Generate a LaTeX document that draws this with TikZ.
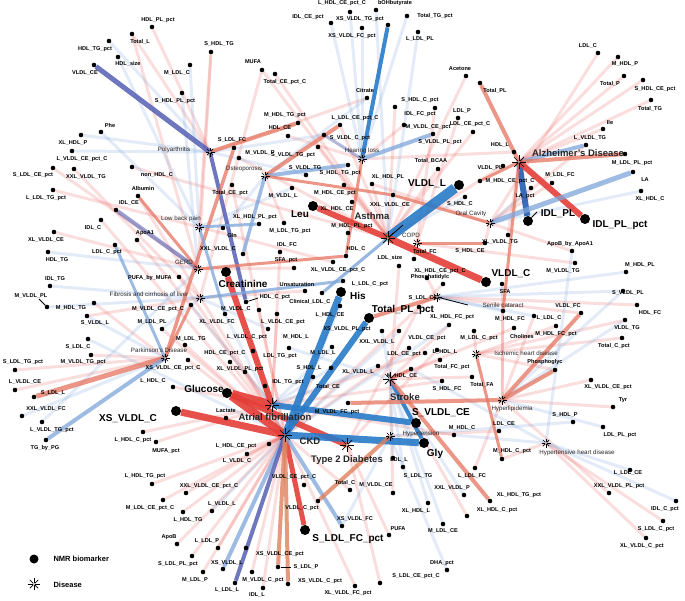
\documentclass[tikz,border=0pt]{standalone}
\usepackage{fontspec}
\setmainfont{Liberation Sans}
\usetikzlibrary{backgrounds}
\definecolor{myred}{RGB}{228,62,56}
\definecolor{mysal}{RGB}{230,115,95}
\definecolor{myblue}{RGB}{40,122,200}
\definecolor{mylb}{RGB}{125,165,218}
\definecolor{mypur}{RGB}{85,95,178}
\definecolor{mydb}{RGB}{38,92,175}
\definecolor{myor}{RGB}{222,128,92}
\tikzset{
 bio/.style={circle,fill=black,inner sep=0pt,minimum size=4.6pt},
 bigbio/.style={circle,fill=black,inner sep=0pt,minimum size=10pt},
 lab/.style={font=\bfseries\fontsize{5.6}{6}\selectfont,inner sep=0.5pt},
 blab/.style={font=\bfseries\fontsize{10}{11}\selectfont,inner sep=0.5pt},
 dlab/.style={font=\fontsize{6.2}{7}\selectfont,text=black!85,inner sep=0.5pt},
 bdlab/.style={font=\bfseries\fontsize{9.5}{10}\selectfont,text=black!85,inner sep=0.5pt},
 fr/.style={draw=myred,opacity=0.17,line width=3pt},
 fb/.style={draw=mylb,opacity=0.22,line width=3pt},
 RR/.style={draw=myred,opacity=0.9,line width=#1},
 SS/.style={draw=mysal,opacity=0.75,line width=#1},
 BB/.style={draw=myblue,opacity=0.9,line width=#1},
 LB/.style={draw=mylb,opacity=0.75,line width=#1},
 PP/.style={draw=mypur,opacity=0.85,line width=#1},
 DB/.style={draw=mydb,opacity=0.9,line width=#1},
 OR/.style={draw=myor,opacity=0.8,line width=#1},
 tick/.style={draw=black,line width=0.8pt},
}
\newcommand\bm[4][lab]{\node[bio] (#2) at (#3) {}; \node[#1] (#2-l) at (#4) {#2};}
\newcommand\bg[3]{\node[bigbio] (#1) at (#2) {}; \node[blab] (#1-l) at (#3) {#1};}
\newcommand\dz[6]{\node[inner sep=0pt,minimum size=1pt] (#1) at (#2) {};
 \foreach \a in {0,45,...,315}{\draw[line width=0.7pt] (#1) -- ++(\a:#3);}
 \node[#4] (#1-l) at (#5) {#6};}
\begin{document}
\begin{tikzpicture}[x=1pt,y=-1pt]
\catcode`\_=12
\useasboundingbox (0,0) rectangle (685,600);
% ---------- diseases
\dz{poly}{210,152}{4.5}{dlab}{174,150}{Polyarthritis}
\dz{osteo}{265,176}{4.5}{dlab}{244,169}{Osteoporosis}
\dz{hear}{362,159}{4.5}{dlab}{362,151}{Hearing loss}
\dz{alz}{519,162}{7}{bdlab}{578,153}{Alzheimer's Disease}
\dz{lbp}{199,227}{4.5}{dlab}{181,219}{Low back pain}
\dz{gerd}{198,269}{4.5}{dlab}{184,262}{GERD}
\dz{fib}{200,298}{4.5}{dlab}{149,294}{Fibrosis and cirrhosis of liver}
\dz{park}{165,358}{4.5}{dlab}{159,350}{Parkinson's Disease}
\dz{asth}{388,238}{7}{bdlab}{372,216}{Asthma}
\dz{copd}{417,243}{4.5}{dlab}{411,235}{COPD}
\dz{oral}{490,223}{4.5}{dlab}{471,214}{Oral Cavity}
\dz{sen}{437,297}{4.5}{dlab}{503,305}{Senile cataract}
\dz{ihd}{476,354}{4.5}{dlab}{526,353}{Ischemic heart disease}
\dz{stroke}{390,379}{7}{bdlab}{405,397}{Stroke}
\dz{hyl}{502,400}{4.5}{dlab}{512,409}{Hyperlipidemia}
\dz{hyt}{390,436}{4.5}{dlab}{421,434}{Hypertension}
\dz{hhd}{546,443}{4.5}{dlab}{577,453}{Hypertensive heart disease}
\dz{af}{272,405}{7}{bdlab}{275,417}{Atrial fibrillation}
\dz{ckd}{285,435}{7}{bdlab}{310,441}{CKD}
\dz{t2d}{347,445}{7}{bdlab}{347,460}{Type 2 Diabetes}
% ---------- biomarkers
\bm{HDL_PL_pct}{152,27}{158,20}
\bm{Total_L}{132,34}{140,42}
\bm{HDL_TG_pct}{109,41}{95,49}
\bm{HDL_size}{118,57}{128,64}
\bm{VLDL_CE}{94,65}{85,73}
\bm{S_HDL_TG}{211,52}{219,44}
\bm{M_LDL_C}{190,65}{177,73}
\bm{MUFA}{262,70}{253,62}
\bm{Total_CE_pct_C}{275,74}{285,82}
\bm{S_HDL_PL_pct}{182,93}{175,101}
\bm{Phe}{101,132}{110,125}
\bm{XL_HDL_P}{81,135}{73,143}
\bm{L_VLDL_CE_pct_C}{72,151}{82,159}
\bm{S_LDL_CE_pct}{53,168}{33,175}
\bm{XXL_VLDL_TG}{74,169}{86,177}
\bm{non_HDL_C}{132,167}{157,175}
\bm{L_LDL_TG_pct}{53,190}{46,198}
\bm{Albumin}{138,196}{143,188}
\bm{IDL_CE}{116,210}{129,203}
\bm{IDL_C}{101,220}{93,228}
\bm{ApoA1}{137,240}{145,233}
\bm{XL_VLDL_CE}{54,232}{46,240}
\bm{LDL_C_pct}{115,245}{107,252}
\bm{HDL_TG}{48,252}{57,260}
\bm{IDL_TG}{50,286}{55,279}
\bm{PUFA_by_MUFA}{179,277}{150,278}
\bm{M_VLDL_PL}{47,307}{31,296}
\bm{M_HDL_TG}{94,303}{71,308}
\bm{S_VLDL_L}{87,316}{95,323}
\bm{M_LDL_PL}{162,329}{152,322}
\bm{S_LDL_C}{88,339}{78,347}
\bm{M_VLDL_CE_pct_C}{191,305}{158,309}
\bm{XL_VLDL_FC}{225,314}{217,322}
\bm{M_VLDL_C}{259,310}{236,309}
\bm{HDL_C_pct}{246,302}{275,297}
\bg{Creatinine}{226,272}{243,284}
\bm{Gln}{223,228}{232,235}
\bm{XXL_VLDL_C}{243,254}{218,249}
\bm{XL_HDL_PL_pct}{259,224}{255,217}
\bm{M_LDL_TG_pct}{284,223}{290,231}
\bg{Leu}{313,206}{300,214}
\bm{M_VLDL_L}{292,188}{283,196}
\bm{M_HDL_CE_pct}{344,185}{335,193}
\bm{XL_HDL_CE}{352,202}{337,209}
\bm{XXL_VLDL_CE}{393,195}{390,205}
\bm{IDL_FC}{280,252}{287,245}
\bm{SFA_pct}{294,268}{286,260}
\bm{XL_VLDL_CE_pct_C}{333,262}{338,270}
\bm{HDL_C}{346,256}{356,249}
\bm{Unsaturation}{305,291}{297,284}
\bm{L_LDL_C_pct}{343,281}{370,284}
\bg{His}{341,292}{358,296}
\bm{Clinical_LDL_C}{322,293}{310,302}
\bm{L_HDL_CE}{340,306}{330,315}
\bg{Total_PL_pct}{369,318}{403,310}
\bm{L_VLDL_CE_pct}{277,314}{283,322}
\bm{L_VLDL_C_pct}{268,329}{247,337}
\bm{M_HDL_L}{289,348}{296,337}
\bm{M_LDL_L}{332,347}{323,353}
\bm{S_HDL_L}{331,368}{309,368}
\bm{LDL_TG_pct}{253,351}{280,356}
\bm{HDL_CE_pct_C}{230,362}{225,353}
\bm{XL_VLDL_PL_pct}{245,372}{240,369}
\bm{IDL_TG_pct}{265,386}{288,382}
\bm{Total_CE}{313,377}{328,387}
\bm{M_VLDL_FC_pct}{348,403}{337,412}
\bm{XS_VLDL_PL_pct}{382,331}{347,329}
\bm{XXL_VLDL_L}{399,331}{377,342}
\bm{XL_VLDL_L}{378,366}{358,372}
\bm{VLDL_CE_pct}{409,348}{427,338}
\bm{LDL_CE_pct}{425,353}{404,354}
\bm{L_HDL_L}{437,350}{445,352}
\bm{Total_FC_pct}{440,360}{452,367}
\bm{M_HDL_CE}{411,369}{402,376}
\bm{S_HDL_FC}{442,381}{447,389}
\bm{Total_FA}{472,377}{482,385}
\bm{XL_HDL_FC_pct}{449,325}{452,317}
\bm{M_LDL_C_pct}{474,331}{479,338}
\bm{M_HDL_FC}{503,311}{510,319}
\bm{L_LDL_C}{534,316}{549,318}
\bm{Cholines}{514,328}{522,336}
\bm{M_HDL_FC_pct}{556,326}{556,334}
\bm{VLDL_FC}{581,313}{568,306}
\bm{HDL_FC}{637,305}{650,313}
\bm{VLDL_TG}{625,320}{627,328}
\bm{Total_C_pct}{622,338}{614,346}
\bm{Phosphoglyc}{555,370}{545,362}
\bm{XL_VLDL_CE_pct}{591,380}{608,387}
\bm{Tyr}{613,407}{623,400}
\bm{S_HDL_P}{573,422}{565,415}
\bm{LDL_PL_pct}{603,427}{620,435}
\bm{M_HDL_C}{454,435}{462,428}
\bm{LDL_CE}{499,431}{504,424}
\bm{M_HDL_C_pct}{502,459}{512,451}
\bm{L_LDL_FC}{475,468}{472,476}
\bm{XXL_VLDL_P}{464,495}{452,488}
\bm{XL_HDL_TG_pct}{490,501}{519,495}
\bm{XL_HDL_L}{428,503}{416,511}
\bm{XL_HDL_C_pct}{467,516}{497,510}
\bm{M_LDL_CE}{443,524}{443,531}
\bm{PUFA}{389,535}{398,529}
\bm{DHA_pct}{447,570}{442,563}
\bm{S_LDL_CE_pct_C}{380,583}{416,576}
\bm{XL_VLDL_FC_pct}{355,586}{348,593}
\bm{L_LDL_CE}{630,470}{628,473}
\bm{XXL_VLDL_PL_pct}{609,493}{619,486}
\bm{IDL_C_pct}{676,501}{665,509}
\bm{S_LDL_C_pct}{663,521}{656,529}
\bm{XL_VLDL_C_pct}{646,538}{642,546}
\bm{LDL_L}{393,458}{399,460}
\bm{S_LDL_TG}{403,467}{418,476}
\bm{M_VLDL_CE}{393,493}{376,485}
\bm{Total_C}{350,490}{345,483}
\bm{VLDL_CE_pct_C}{304,485}{294,477}
\bm{VLDL_C_pct}{318,501}{302,508}
\bm{XS_VLDL_FC}{342,526}{355,519}
\node[bigbio] (S_LDL_FC_pct) at (305,530) {}; \node[blab] (S_LDL_FC_pct-l) at (348,539) {S_LDL_FC_pct};
\node[bigbio] (S_VLDL_CE) at (416,423) {}; \node[blab] (S_VLDL_CE-l) at (441,413) {S_VLDL_CE};
\node[bigbio] (Gly) at (424,443) {}; \node[blab] (Gly-l) at (435,454) {Gly};
\bm{XS_VLDL_CE_pct}{246,548}{280,554}
\bm{S_LDL_P}{278,567}{306,567}
\bm{M_VLDL_C_pct}{252,572}{263,580}
\bm{XS_VLDL_C_pct}{288,584}{320,581}
\bm{IDL_L}{263,588}{257,595}
\bm{L_LDL_L}{235,583}{227,590}
\bm{XS_VLDL_L}{223,569}{227,563}
\bm{L_LDL_P}{218,548}{207,541}
\bm{S_LDL_PL_pct}{192,556}{178,564}
\bm{M_LDL_P}{203,572}{195,580}
\bm{ApoB}{177,544}{169,537}
\bm{L_HDL_TG}{183,512}{188,520}
\bm{L_VLDL_L}{212,511}{222,504}
\bm{M_LDL_CE_pct_C}{163,500}{150,508}
\bm{XXL_VLDL_CE_pct_C}{186,493}{209,486}
\bm{L_HDL_TG_pct}{152,484}{145,476}
\bm{L_VLDL_C}{247,454}{237,461}
\bm{L_HDL_CE_pct}{269,444}{236,446}
\bm{Lactate}{226,418}{226,411}
\node[bigbio] (XS_VLDL_C) at (176,411) {}; \node[blab] (XS_VLDL_C-l) at (128,419) {XS_VLDL_C};
\node[bigbio] (Glucose) at (227,393) {}; \node[blab] (Glucose-l) at (204,389) {Glucose};
\bm{L_HDL_C_pct}{143,432}{133,440}
\bm{MUFA_pct}{156,442}{166,451}
\bm{L_HDL_C}{173,387}{153,381}
\bm{XS_VLDL_CE_pct_C}{188,360}{173,368}
\bm{M_LDL_TG}{185,345}{191,339}
\bm{S_LDL_TG_pct}{15,370}{23,362}
\bm{M_VLDL_TG_pct}{91,355}{83,362}
\bm{L_VLDL_CE}{15,390}{25,382}
\bm{S_LDL_L}{34,397}{53,393}
\bm{XXL_VLDL_FC}{22,416}{46,409}
\bm{L_VLDL_TG_pct}{42,422}{52,430}
\bm{TG_by_PG}{46,440}{45,448}
\bm{M_VLDL_P}{239,158}{260,153}
\bm{S_LDL_FC}{234,148}{232,140}
\bm{HDL_CE}{288,136}{280,128}
\bm{M_HDL_TG_pct}{298,123}{285,115}
\bm{L_LDL_CE_pct_C}{340,125}{355,118}
\bm{S_VLDL_C_pct}{324,135}{350,138}
\bm{S_VLDL_TG_pct}{318,147}{293,155}
\bm{S_VLDL_TG}{306,175}{305,168}
\bm{S_HDL_TG_pct}{348,165}{340,173}
\bm{M_HDL_PL_pct}{348,233}{352,226}
\bm{Total_CE_pct}{232,185}{230,193}
\bm{XL_HDL_PL}{372,184}{388,177}
\bm{M_VLDL_CE_pct}{404,125}{428,127}
\bm{S_VLDL_PL_pct}{433,134}{440,142}
\bm{IDL_FC_pct}{395,107}{420,114}
\bm{S_HDL_C_pct}{435,108}{420,100}
\bm{Citrate}{367,98}{365,90}
\bm{LDL_P}{458,118}{462,111}
\bm{LDL_CE_pct_C}{473,132}{470,124}
\bm{Total_BCAA}{438,169}{431,161}
\node[bigbio] (VLDL_L) at (459,185) {}; \node[blab] (VLDL_L-l) at (427,184) {VLDL_L};
\bm{S_HDL_C}{465,197}{460,204}
\bm{HDL_L}{514,152}{500,145}
\bm{VLDL_PL}{503,166}{490,168}
\bm{M_HDL_CE_pct_C}{480,181}{510,181}
\bm{LA_pct}{531,188}{525,196}
\bm{M_LDL_FC}{552,183}{560,175}
\node[bigbio] (IDL_PL) at (528,221) {}; \node[blab] (IDL_PL-l) at (558,214) {IDL_PL};
\node[bigbio] (IDL_PL_pct) at (585,219) {}; \node[blab] (IDL_PL_pct-l) at (620,225) {IDL_PL_pct};
\bm{M_LDL_PL_pct}{625,154}{632,163}
\bm{LA}{633,172}{645,180}
\bm{XL_HDL_C}{641,191}{650,199}
\bm{L_VLDL_TG}{586,145}{590,138}
\bm{Ile}{603,129}{610,122}
\bm{Total_TG}{651,100}{650,109}
\bm{S_HDL_CE_pct}{643,80}{655,89}
\bm{Total_P}{624,76}{610,84}
\bm{M_HDL_P}{618,57}{625,64}
\bm{LDL_C}{598,53}{588,46}
\bm{Acetone}{466,76}{460,69}
\bm{Total_PL}{480,83}{495,91}
\bm{XL_VLDL_TG}{508,235}{500,242}
\bm{S_HDL_CE}{485,243}{470,251}
\bm{Total_FC}{414,259}{425,252}
\bm{LDL_size}{399,266}{390,258}
\bm{XL_HDL_CE_pct_C}{427,278}{440,271}
\node[bigbio] (VLDL_C) at (486,282) {}; \node[blab] (VLDL_C-l) at (511,274) {VLDL_C};
\bm{SFA}{502,284}{505,292}
\bm{ApoB_by_ApoA1}{572,251}{570,244}
\bm{M_VLDL_TG}{575,263}{563,271}
\bm{M_HDL_PL}{626,272}{640,265}
\bm{S_VLDL_PL}{623,291}{628,293}
\bm{Phosphatidylc}{443,284}{430,277}
\bm{S_LDL_CE}{419,307}{423,298}
\bm{L_HDL_CE_pct_C}{350,12}{342,3}
\bm{bOHbutyrate}{376,10}{395,3}
\bm{IDL_CE_pct}{331,23}{308,17}
\bm{XS_VLDL_TG_pct}{388,25}{360,19}
\bm{Total_TG_pct}{407,16}{435,16}
\bm{XS_VLDL_FC_pct}{362,28}{352,36}
\bm{L_LDL_PL}{418,32}{420,39}
% legend
\node[bigbio,minimum size=9pt] (legdot) at (34,559) {};
\node[font=\bfseries\fontsize{7.5}{8}\selectfont,anchor=west] (legdot-l) at (50,559) {NMR biomarker};
\dz{legdis}{34,584}{6}{font=\bfseries\fontsize{7.5}{8}\selectfont,anchor=west}{50,585}{Disease}
% pointer ticks
\draw[tick] (asth) -- (403,225);
\draw[tick] (IDL_PL) -- (537,212);
\draw[tick] (HDL_C_pct) -- (258,298);
\draw[tick] (S_LDL_P) -- (291,567);
\draw[tick] (M_VLDL_PL) -- (39,299);
\draw[tick] (sen) -- (468,305);
% ---------- edges
\begin{scope}[on background layer]
\foreach \a/\b in {Total_L/gerd,S_HDL_TG/lbp,MUFA/fib,Total_CE_pct_C/asth,non_HDL_C/asth,L_LDL_TG_pct/lbp,
 S_LDL_CE_pct/gerd,XXL_VLDL_TG/fib,Albumin/ckd,ApoA1/af,XL_VLDL_CE/gerd,IDL_C/ckd,M_HDL_TG/park,S_VLDL_L/fib,
 S_LDL_TG_pct/park,L_VLDL_CE/park,M_LDL_TG/ckd,L_HDL_C/af,L_HDL_TG_pct/ckd,M_LDL_CE_pct_C/ckd,L_HDL_TG/ckd,
 ApoB/ckd,L_LDL_P/ckd,S_LDL_PL_pct/ckd,M_LDL_P/ckd,IDL_L/ckd,M_VLDL_C_pct/ckd,XL_VLDL_FC_pct/ckd,S_LDL_CE_pct_C/t2d,
 PUFA/t2d,Total_C/ckd,M_VLDL_CE/stroke,XL_HDL_C_pct/stroke,L_LDL_FC/hyl,XXL_VLDL_PL_pct/hyl,S_LDL_C_pct/hhd,
 XL_VLDL_C_pct/hhd,Tyr/hyl,XL_VLDL_CE_pct/hyl,Total_C_pct/ihd,VLDL_TG/ihd,HDL_FC/sen,M_HDL_FC_pct/ihd,
 Cholines/stroke,Total_FA/stroke,S_HDL_FC/af,Total_FC_pct/stroke,L_HDL_L/t2d,LDL_CE_pct/af,VLDL_CE_pct/ckd,
 M_HDL_C/af,M_VLDL_TG/copd,ApoB_by_ApoA1/oral,M_HDL_P/alz,LDL_C/oral,Total_P/alz,S_HDL_CE_pct/alz,Total_TG/alz,
 Ile/alz,Acetone/asth,LDL_P/copd,LDL_CE_pct_C/asth,S_HDL_C_pct/copd,IDL_FC_pct/asth,M_VLDL_CE_pct/hear,
 Citrate/poly,MUFA/asth,S_HDL_TG/gerd,Total_CE_pct/ckd,M_VLDL_P/asth,XL_HDL_PL/oral,Total_BCAA/asth,
 XL_HDL_CE_pct_C/sen,Total_FC/copd,LDL_size/stroke,S_LDL_CE/t2d,Phosphatidylc/ckd,IDL_FC/af,SFA_pct/gerd,
 M_LDL_TG_pct/osteo,XL_VLDL_CE_pct_C/lbp,Unsaturation/fib,L_VLDL_CE_pct/af,M_VLDL_C/ckd,HDL_CE_pct_C/ckd,
 LDL_TG_pct/af,XL_VLDL_PL_pct/ckd,Total_CE/ckd,XS_VLDL_CE_pct_C/ckd,MUFA_pct/af,L_HDL_C_pct/af,L_HDL_CE_pct/ckd,
 L_VLDL_C/ckd,XXL_VLDL_CE_pct_C/ckd,M_LDL_PL/ckd,PUFA_by_MUFA/ckd,M_VLDL_TG_pct/park,XL_HDL_FC_pct/stroke,
 M_LDL_C_pct/ihd,L_LDL_C/hyl,M_HDL_FC/hyl,LDL_CE/hyt,M_HDL_C_pct/hhd,Phosphoglyc/ihd,VLDL_FC/sen,S_HDL_CE/oral,
 SFA/hyl,XL_VLDL_TG/alz,M_LDL_FC/oral,VLDL_PL/asth,HDL_L/hear,L_VLDL_TG/oral,M_HDL_CE_pct/asth,XL_HDL_PL/asth,
 S_VLDL_TG_pct/asth,HDL_CE/hear,L_LDL_CE_pct_C/asth,Total_L/poly,HDL_PL_pct/poly}
 \draw[fr] (\a) -- (\b);
\foreach \a/\b in {HDL_size/lbp,HDL_TG_pct/poly,M_LDL_C/lbp,S_HDL_PL_pct/gerd,Phe/lbp,XL_HDL_P/poly,
 L_VLDL_CE_pct_C/poly,IDL_TG/fib,HDL_TG/gerd,M_VLDL_PL/fib,S_LDL_C/ckd,XXL_VLDL_FC/park,L_VLDL_TG_pct/gerd,
 IDL_CE_pct/hear,XS_VLDL_FC_pct/hear,L_HDL_CE_pct_C/hear,bOHbutyrate/asth,Total_TG_pct/hear,L_LDL_PL/asth,
 Citrate/osteo,S_VLDL_PL/sen,M_HDL_PL/sen,XL_HDL_C/oral,LDL_PL_pct/hyl,S_HDL_P/hyt,L_LDL_CE/hhd,IDL_C_pct/hhd,
 XXL_VLDL_P/stroke,XL_HDL_L/stroke,M_LDL_CE/stroke,DHA_pct/hyt,LDL_L/stroke,S_LDL_TG/stroke,M_HDL_C/hhd,
 L_VLDL_L/ckd,XXL_VLDL_L/ckd,XL_VLDL_L/af,XS_VLDL_PL_pct/stroke,M_HDL_L/stroke,S_HDL_L/af,L_HDL_CE/ckd,
 Clinical_LDL_C/asth,M_LDL_L/af,Gln/osteo,M_VLDL_L/lbp,S_HDL_C/asth,LA_pct/oral,XL_HDL_FC_pct/ckd,
 M_HDL_FC/sen,L_LDL_C/sen,S_VLDL_PL/hyl,ApoB_by_ApoA1/hhd,VLDL_TG/hyl,M_HDL_CE/hhd,XS_VLDL_FC/hyt,
 L_VLDL_C_pct/fib,M_VLDL_CE_pct_C/af,XL_VLDL_FC/ckd,M_LDL_PL/fib,S_VLDL_L/park,S_VLDL_TG/poly,S_VLDL_C_pct/poly}
 \draw[fb] (\a) -- (\b);
% strong edges
\draw[PP=5pt] (VLDL_CE) -- (poly);
\draw[SS=4pt] (poly) -- (M_HDL_TG_pct);
\draw[PP=4pt] (poly) -- (HDL_C_pct);
\draw[SS=3.5pt] (S_LDL_FC) -- (park);
\draw[SS=4pt] (osteo) -- (L_LDL_CE_pct_C);
\draw[LB=4pt] (osteo) -- (S_HDL_TG_pct);
\draw[LB=3.5pt] (osteo) -- (XXL_VLDL_C);
\draw[SS=3pt] (osteo) -- (XXL_VLDL_CE);
\draw[BB=4pt] (hear) -- (XS_VLDL_TG_pct);
\draw[LB=4pt] (hear) -- (S_VLDL_PL_pct);
\draw[PP=3pt,opacity=0.45] (hear) -- (S_VLDL_C_pct);
\draw[SS=3pt] (hear) -- (HDL_C);
\draw[SS=4pt] (alz) -- (Total_PL);
\draw[LB=4pt] (alz) -- (L_VLDL_TG);
\draw[SS=4pt] (alz) -- (M_LDL_PL_pct);
\draw[DB=6pt] (alz) -- (IDL_PL);
\draw[RR=6pt] (alz) -- (IDL_PL_pct);
\draw[SS=3pt] (alz) -- (M_HDL_CE_pct_C);
\draw[SS=3pt] (alz) -- (M_HDL_FC);
\draw[LB=5pt] (oral) -- (LA);
\draw[SS=3pt] (XXL_VLDL_CE) -- (oral);
\draw[BB=10pt] (asth) -- (VLDL_L);
\draw[RR=7pt] (asth) -- (VLDL_C);
\draw[RR=6pt] (asth) -- (Leu);
\draw[LB=3pt] (asth) -- (Clinical_LDL_C);
\draw[SS=3pt] (copd) -- (S_HDL_CE);
\draw[SS=4pt] (sen) -- (Total_PL_pct);
\draw[RR=9pt] (Glucose) -- (af);
\draw[RR=8pt] (Glucose) -- (ckd);
\draw[RR=6pt] (Glucose) -- (t2d);
\draw[RR=7pt] (XS_VLDL_C) -- (ckd);
\draw[RR=6pt] (Creatinine) -- (af);
\draw[BB=6pt] (af) -- (S_VLDL_CE);
\draw[BB=7pt] (ckd) -- (Gly);
\draw[BB=7pt] (ckd) -- (His);
\draw[BB=6pt] (ckd) -- (Total_PL_pct);
\draw[RR=5pt] (ckd) -- (S_LDL_FC_pct);
\draw[LB=4pt] (ckd) -- (XS_VLDL_L);
\draw[PP=4pt] (ckd) -- (L_LDL_L);
\draw[OR=4pt] (ckd) -- (S_LDL_P);
\draw[OR=4pt] (ckd) -- (XS_VLDL_C_pct);
\draw[LB=4pt] (ckd) -- (XS_VLDL_FC);
\draw[BB=4pt] (stroke) -- (Gly);
\draw[SS=4pt] (stroke) -- (XL_HDL_TG_pct);
\draw[SS=3pt] (stroke) -- (M_HDL_CE);
\draw[SS=4pt] (hyl) -- (M_VLDL_FC_pct);
\draw[SS=4pt] (hyl) -- (Phosphoglyc);
\draw[SS=4pt] (hyl) -- (VLDL_FC);
\draw[SS=3pt] (ihd) -- (M_HDL_C_pct);
\draw[OR=4pt] (VLDL_C_pct) -- (hyt);
\draw[SS=5pt] (park) -- (S_LDL_L);
\draw[LB=4pt] (park) -- (TG_by_PG);
\draw[SS=3pt] (park) -- (M_VLDL_CE_pct_C);
\draw[PP=4pt,opacity=0.6] (IDL_CE) -- (gerd);
\draw[LB=3pt] (LDL_C_pct) -- (park);
\draw[SS=3pt] (gerd) -- (Albumin);
\draw[SS=3pt] (gerd) -- (HDL_C);
\draw[LB=3pt] (fib) -- (L_LDL_C_pct);
\draw[LB=3pt] (lbp) -- (XL_HDL_PL_pct);
\draw[LB=3pt] (lbp) -- (XL_VLDL_FC);
\end{scope}
\end{tikzpicture}
\end{document}
